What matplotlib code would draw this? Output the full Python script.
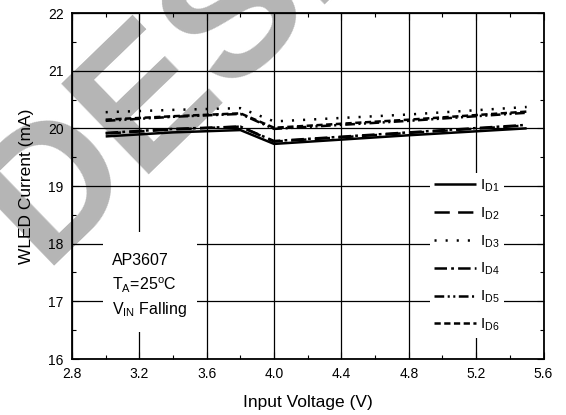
import numpy as np
import matplotlib
matplotlib.use("Agg")
from matplotlib import pyplot as plt
from matplotlib.patches import Rectangle
from matplotlib.ticker import MultipleLocator

plt.rcParams['font.family'] = ['Liberation Sans', 'DejaVu Sans']
plt.rcParams['mathtext.fontset'] = 'custom'
plt.rcParams['mathtext.rm'] = 'Liberation Sans'
plt.rcParams['mathtext.it'] = 'Liberation Sans'
plt.rcParams['lines.scale_dashes'] = False

# input voltage (V), read at the visible breakpoints
vin = [3.0, 3.4, 3.8, 4.0, 4.8, 5.5]
# WLED current (mA) per LED channel
i_d1 = [19.86, 19.93, 19.97, 19.73, 19.88, 20.00]
i_d2 = [19.91, 19.98, 20.03, 19.77, 19.92, 20.05]
i_d3 = [20.28, 20.32, 20.35, 20.12, 20.24, 20.37]
i_d4 = [19.92, 19.99, 20.03, 19.78, 19.93, 20.06]
i_d5 = [20.13, 20.20, 20.25, 19.99, 20.13, 20.27]
i_d6 = [20.15, 20.21, 20.26, 20.01, 20.15, 20.29]
labels = ["D1", "D2", "D3", "D4", "D5", "D6"]

series = [i_d1, i_d2, i_d3, i_d4, i_d5, i_d6]
dash_styles = [
    (0, ()),
    (0, (11, 6)),
    (0, (1.5, 6.5)),
    (0, (9, 3, 2, 3)),
    (0, (7, 2.5, 1.5, 2.5, 1.5, 2.5)),
    (0, (4.5, 2.5)),
]

fig = plt.figure(figsize=(5.66, 4.15), dpi=100)
ax = fig.add_axes([72 / 566, 1 - 359 / 415, 471.5 / 566, 346 / 415])
ax.set_facecolor('none')

# watermark behind the plot
fig.text(42 / 566, 1 - 266 / 415, "DESIGN", rotation=44, rotation_mode='anchor',
         ha='left', va='baseline', fontsize=132, fontweight='bold',
         color='#b5b5b5', zorder=-5)

for vals, ls, lab in zip(series, dash_styles, labels):
    ax.plot(vin, vals, color='black', lw=1.8, linestyle=ls,
            label=r"I$_{\rm " + lab + "}$", zorder=3)

ax.set_xlim(2.8, 5.6)
ax.set_ylim(16, 22)
ax.xaxis.set_major_locator(MultipleLocator(0.4))
ax.xaxis.set_minor_locator(MultipleLocator(0.2))
ax.yaxis.set_major_locator(MultipleLocator(1))
ax.yaxis.set_minor_locator(MultipleLocator(0.5))
ax.set_xticklabels([f"{v:.1f}" for v in ax.get_xticks()])
ax.tick_params(which='both', direction='in', top=True, right=True, labelsize=10, width=0.8)
ax.tick_params(which='major', length=5, pad=6)
ax.tick_params(which='minor', length=3)
ax.grid(True, which='major', color='black', lw=0.9, zorder=1)
ax.set_axisbelow(True)
for sp in ax.spines.values():
    sp.set_linewidth(1.3)

ax.set_xlabel("Input Voltage (V)", fontsize=12.5, labelpad=10)
ax.set_ylabel("WLED Current (mA)", fontsize=12.5, labelpad=10)

# white box for the condition note
ax.add_patch(Rectangle((2.984, 16.47), 0.558, 1.735, facecolor='white',
                       edgecolor='none', zorder=2))
ax.text(3.04, 17.71, "AP3607", fontsize=11.5, va='center', zorder=4)
ax.text(3.04, 17.28, r"T$_{\rm A}$=25$^{\rm o}$C", fontsize=11.5, va='center', zorder=4)
ax.text(3.04, 16.85, r"V$_{\rm IN}$ Falling", fontsize=11.5, va='center', zorder=4)

leg = ax.legend(loc='upper left', bbox_to_anchor=(0.759, 0.538), fontsize=11,
                frameon=True, fancybox=False, framealpha=1, edgecolor='none',
                facecolor='white', handlelength=2.7, handletextpad=0.3,
                labelspacing=0.75, borderpad=0.3, borderaxespad=0)
leg.set_zorder(5)

fig.savefig("out.png", dpi=100)
